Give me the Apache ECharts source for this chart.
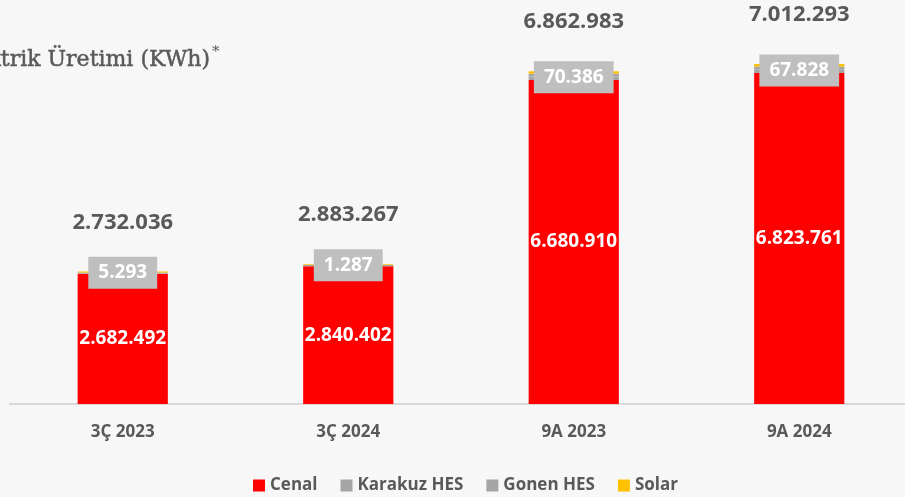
<!DOCTYPE html>
<html>
<head>
<meta charset="utf-8">
<script src="https://cdn.jsdelivr.net/npm/echarts@6/dist/echarts.min.js"></script>
<style>
  html, body { margin: 0; padding: 0; background: #f7f7f7; }
  #chart { width: 905px; height: 497px; }
</style>
</head>
<body>
<div id="chart"></div>
<script>
const categories = ['3Ç 2023', '3Ç 2024', '9A 2023', '9A 2024']
const cenal = [2682492, 2840402, 6680910, 6823761]
const karakuz = [5293, 1287, 70386, 67828]
const gonen = [26000, 24000, 60000, 65000]
const solar = [18251, 17578, 51687, 55704]
const totals = [2732036, 2883267, 6862983, 7012293]

const FONT = '"Open Sans", "Liberation Sans", sans-serif'
const TEXT = '#595959'

// 1234567 -> 1.234.567
const fmt = v => String(v).replace(/\B(?=(\d{3})+(?!\d))/g, '.')

const chart = echarts.init(document.getElementById('chart'))

const option = {
  backgroundColor: '#f7f7f7',
  animation: false,
  grid: { left: 10, right: -7, top: 16, bottom: 93, outerBoundsMode: 'none' },
  graphic: [
    {
      type: 'text',
      x: 210,
      y: 60,
      style: {
        text: 'Elektrik Üretimi (KWh)',
        textAlign: 'right',
        textVerticalAlign: 'middle',
        fontSize: 22,
        fontFamily: '"DejaVu Serif", serif',
        fill: TEXT,
        stroke: TEXT,
        lineWidth: 0.5
      }
    },
    {
      type: 'text',
      x: 212,
      y: 52,
      style: {
        text: '*',
        textVerticalAlign: 'middle',
        fontSize: 15,
        fontFamily: '"DejaVu Serif", serif',
        fill: TEXT
      }
    }
  ],
  legend: {
    data: ['Cenal', 'Karakuz HES', 'Gonen HES', 'Solar'],
    left: 248,
    top: 472,
    icon: 'rect',
    itemWidth: 12,
    itemHeight: 12,
    itemGap: 23,
    textStyle: { color: TEXT, fontWeight: 'bold', fontSize: 17, fontFamily: FONT }
  },
  xAxis: {
    type: 'category',
    data: categories,
    axisLine: { lineStyle: { color: '#d9d9d9', width: 2 } },
    axisTick: { show: false },
    axisLabel: { color: TEXT, fontWeight: 'bold', fontSize: 17, fontFamily: FONT, margin: 20 }
  },
  yAxis: {
    type: 'value',
    min: 0,
    max: 8000000,
    show: false,
    splitLine: { show: false }
  },
  series: [
    {
      name: 'Cenal',
      type: 'bar',
      stack: 'uretim',
      barWidth: '40%',
      data: cenal,
      itemStyle: { color: '#ff0000' },
      label: {
        show: true,
        position: 'inside',
        formatter: p => fmt(p.value),
        color: '#fff',
        fontWeight: 'bold',
        fontSize: 19,
        fontFamily: FONT
      }
    },
    {
      name: 'Karakuz HES',
      type: 'bar',
      stack: 'uretim',
      data: karakuz,
      itemStyle: { color: '#a5a5a5' },
      label: {
        show: true,
        position: 'inside',
        offset: [0, -1],
        formatter: p => fmt(p.value),
        color: '#fff',
        backgroundColor: '#bfbfbf',
        padding: [7, 10, 6, 10],
        fontWeight: 'bold',
        fontSize: 19,
        fontFamily: FONT
      }
    },
    {
      name: 'Gonen HES',
      type: 'bar',
      stack: 'uretim',
      data: gonen,
      itemStyle: { color: '#a5a5a5' }
    },
    {
      name: 'Solar',
      type: 'bar',
      stack: 'uretim',
      data: solar,
      itemStyle: { color: '#ffc000' }
    },
    {
      name: 'Toplam',
      type: 'bar',
      barGap: '-100%',
      barWidth: '40%',
      data: totals,
      silent: true,
      z: 1,
      itemStyle: { color: 'transparent' },
      label: {
        show: true,
        position: 'top',
        distance: 38,
        formatter: p => fmt(p.value),
        color: TEXT,
        fontWeight: 'bold',
        fontSize: 22,
        fontFamily: FONT
      }
    }
  ]
}

chart.setOption(option)
window.addEventListener('resize', () => chart.resize())
</script>
</body>
</html>
